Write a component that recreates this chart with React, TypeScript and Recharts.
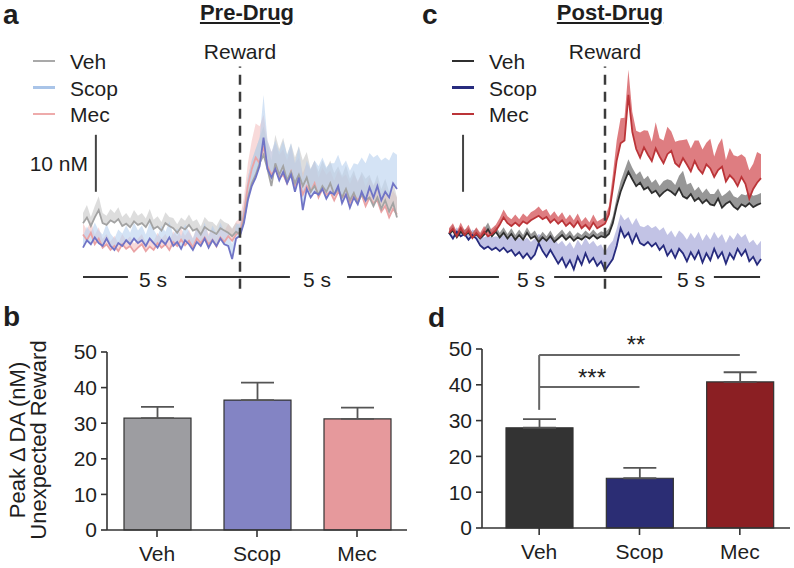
import {
  ComposedChart,
  Area,
  Line,
  XAxis,
  YAxis,
  ReferenceLine,
  BarChart,
  Bar,
  Cell,
  ErrorBar,
} from "recharts";

const FONT = '"Liberation Sans", Arial, Helvetica, sans-serif';

// sample times of the voltammetry traces, seconds from reward
const TIMES = Array.from({ length: 81 }, (_, i) => -5 + i * 0.125);

// panel a, pre-drug mean traces (nM) and SEM
const A_VEH = [5.5, 6.5, 5.0, 6.5, 7.8, 5.5, 5.2, 6.0, 5.6, 6.2, 5.0, 5.4, 4.8, 5.8, 5.2, 5.5, 4.8, 6.0, 4.5, 4.9, 4.2, 5.5, 5.0, 4.6, 3.8, 4.8, 4.4, 5.2, 4.2, 4.5, 3.5, 4.8, 4.3, 4.0, 3.6, 4.6, 4.2, 3.8, 3.2, 4.0, 3.5,
  6.0, 10.0, 12.5, 14.0, 16.0, 17.5, 15.0, 12.0, 16.0, 14.0, 15.5, 13.0, 14.5, 12.5, 14.0, 12.0, 13.5, 11.0, 12.0, 10.5, 12.0, 11.0, 12.5, 10.5, 11.5, 10.0, 11.5, 9.5, 10.8, 9.0, 10.5, 9.5, 10.0, 8.5, 10.0, 8.0, 9.5, 7.5, 9.0, 6.5];
const A_VEH_SEM = [1.8, 2.2, 1.6, 2.0, 2.4, 1.8, 1.6, 2.0, 1.7, 2.1, 1.6, 1.9, 1.5, 2.0, 1.6, 1.8, 1.5, 2.0, 1.6, 1.8, 1.5, 1.9, 1.6, 1.8, 1.5, 1.7, 1.5, 1.8, 1.6, 1.7, 1.4, 1.8, 1.5, 1.7, 1.4, 1.7, 1.5, 1.6, 1.4, 1.6, 1.5,
  2.5, 3.5, 4.0, 4.5, 4.5, 5.0, 4.5, 4.5, 5.0, 4.5, 5.0, 4.5, 5.0, 4.5, 5.0, 4.5, 4.5, 4.0, 4.5, 4.0, 4.5, 4.0, 4.0, 3.8, 4.0, 3.8, 4.2, 3.8, 4.0, 3.6, 4.0, 3.8, 4.0, 3.5, 4.0, 3.5, 3.8, 3.5, 3.8, 3.5];
const A_SCOP = [1.2, 2.5, 1.8, 3.0, 2.0, 1.5, 2.8, 1.5, 0.8, 2.0, 1.5, 2.5, 1.8, 2.8, 2.0, 2.5, 1.5, 2.8, 2.0, 1.2, 2.5, 1.8, 3.0, 1.5, 2.2, 1.0, 2.5, 1.8, 0.8, 2.2, 1.5, 2.8, 1.2, 2.5, 1.5, 2.8, 1.8, 1.5, -0.8, 2.8, 3.3,
  5.5, 9.5, 12.0, 13.5, 15.5, 20.5, 15.0, 13.5, 15.0, 13.0, 14.5, 12.5, 14.0, 11.0, 13.5, 7.8, 11.5, 10.0, 11.0, 10.5, 11.5, 9.8, 11.0, 10.5, 12.0, 9.0, 10.5, 8.2, 10.0, 8.8, 11.0, 9.5, 11.8, 10.0, 12.0, 9.5, 11.0, 10.0, 12.5, 11.5];
const A_SCOP_SEM = [2.0, 2.4, 2.0, 2.6, 2.2, 2.0, 2.6, 2.2, 2.0, 2.4, 2.2, 2.6, 2.0, 2.8, 2.2, 2.6, 2.0, 2.8, 2.4, 2.0, 2.6, 2.2, 2.8, 2.0, 2.4, 2.2, 2.8, 2.2, 2.0, 2.6, 2.2, 2.8, 2.0, 2.6, 2.2, 2.8, 2.2, 2.4, 2.6, 2.4, 2.2,
  3.0, 4.0, 4.5, 5.0, 5.0, 7.5, 5.0, 4.5, 5.0, 5.0, 5.5, 5.0, 5.5, 5.0, 5.5, 5.5, 5.0, 5.0, 5.5, 5.0, 5.5, 5.5, 5.0, 5.5, 5.5, 6.5, 6.0, 6.5, 6.0, 7.0, 6.0, 6.5, 6.0, 7.0, 5.5, 7.0, 6.0, 6.5, 5.5, 6.0];
const A_MEC = [3.5, 2.5, 3.8, 1.8, 2.8, 1.2, 1.8, 0.8, 1.5, 0.6, 1.8, 1.0, 1.5, 0.5, 1.2, 1.8, 0.6, 1.4, 0.8, 2.0, 1.2, 1.8, 0.8, 2.2, 1.5, 2.6, 1.6, 2.4, 1.2, 2.8, 2.0, 3.0, 1.8, 2.6, 1.4, 3.0, 2.2, 3.2, 2.4, 3.5, 4.0,
  7.0, 12.0, 15.0, 17.0, 16.0, 19.0, 15.5, 14.0, 15.0, 13.5, 14.0, 12.5, 14.5, 12.0, 13.0, 10.5, 12.0, 11.0, 12.5, 10.0, 11.5, 10.5, 11.0, 9.5, 11.0, 10.0, 10.5, 9.0, 10.5, 9.5, 10.5, 8.5, 10.0, 9.0, 9.5, 7.5, 8.5, 6.5, 8.0, 7.0];
const A_MEC_SEM = [2.0, 1.8, 2.2, 1.6, 2.0, 1.5, 1.8, 1.5, 1.8, 1.4, 1.8, 1.5, 1.7, 1.4, 1.6, 1.8, 1.4, 1.7, 1.5, 1.8, 1.6, 1.8, 1.5, 1.9, 1.7, 2.0, 1.7, 2.0, 1.6, 2.1, 1.8, 2.2, 1.8, 2.0, 1.7, 2.2, 1.9, 2.2, 2.0, 2.3, 2.4,
  3.0, 4.0, 5.0, 6.0, 6.5, 5.5, 4.5, 4.0, 4.5, 4.0, 4.5, 4.0, 4.5, 4.0, 4.0, 3.8, 4.0, 3.8, 4.0, 3.5, 3.8, 3.5, 3.8, 3.5, 3.8, 3.5, 3.6, 3.4, 3.6, 3.4, 3.6, 3.4, 3.5, 3.2, 3.5, 3.2, 3.4, 3.0, 3.2, 3.0];

// panel c, post-drug mean traces (nM) and SEM
const C_VEH = [3.6, 4.2, 3.0, 4.0, 3.4, 3.8, 3.0, 3.6, 2.8, 3.5, 4.4, 3.2, 4.0, 3.0, 3.8, 2.8, 3.6, 2.6, 3.4, 2.6, 3.8, 2.8, 3.2, 2.2, 3.0, 2.4, 3.2, 2.2, 2.8, 3.4, 2.6, 3.2, 2.4, 3.0, 2.6, 3.2, 2.8, 3.4, 2.8, 3.2, 3.0,
  3.6, 5.5, 8.5, 11.0, 12.8, 14.5, 13.2, 12.0, 12.6, 11.4, 11.8, 10.8, 11.2, 10.2, 10.9, 11.4, 11.0, 10.4, 11.6, 10.2, 9.8, 10.6, 9.4, 9.9, 9.0, 9.6, 8.8, 8.6, 9.8, 8.2, 8.9, 9.3, 8.4, 7.9, 8.8, 8.4, 9.0, 8.3, 8.7, 9.0];
const C_VEH_SEM = [0.8, 1.0, 0.8, 1.0, 0.9, 1.0, 0.8, 1.0, 0.8, 1.0, 1.2, 0.9, 1.0, 0.8, 1.0, 0.8, 1.0, 0.8, 1.0, 0.8, 1.0, 0.8, 1.0, 0.8, 1.0, 0.8, 1.0, 0.8, 0.9, 1.0, 0.8, 1.0, 0.8, 0.9, 0.8, 1.0, 0.8, 1.0, 0.8, 0.9, 0.8,
  1.0, 1.2, 1.5, 1.8, 2.0, 2.2, 2.0, 2.0, 2.0, 1.8, 2.0, 1.8, 2.0, 1.8, 2.0, 1.8, 2.0, 1.8, 2.2, 4.5, 2.5, 2.0, 1.8, 2.0, 1.8, 2.0, 1.8, 2.0, 1.8, 2.0, 1.8, 2.0, 1.8, 2.0, 1.8, 2.0, 1.8, 2.0, 1.8, 1.8];
const C_SCOP = [3.8, 2.8, 4.0, 3.2, 3.6, 2.6, 3.4, 2.8, 1.6, 1.0, 1.4, 0.8, 1.2, 0.6, 1.2, 0.4, 0.8, -0.2, 0.4, -0.6, 0.2, -0.8, 0.0, 2.0, 0.6, -0.4, 0.8, -0.4, -1.6, -0.6, -2.2, -1.0, -2.6, -0.4, -1.8, 0.2, -1.4, -0.6, -2.0, -1.2, -2.8,
  -1.8, -0.8, 1.5, 4.6, 3.0, 3.8, 2.0, 3.6, 2.0, 1.6, 2.2, 1.4, 2.0, 0.8, 1.6, -0.2, 0.8, -0.6, 1.0, 0.2, -1.2, 0.4, -0.8, 0.6, -1.4, 0.2, -1.0, 1.0, -0.6, 0.4, -1.6, 0.2, -0.8, 1.0, -0.2, 0.8, -1.2, -0.4, -1.8, -0.8];
const C_SCOP_SEM = [0.6, 0.6, 0.8, 0.6, 0.8, 0.8, 1.0, 1.2, 1.6, 2.0, 2.0, 2.2, 2.0, 2.4, 2.2, 2.6, 2.4, 2.8, 2.6, 3.0, 2.8, 3.0, 2.8, 1.6, 2.6, 3.0, 2.8, 3.2, 3.4, 3.0, 3.6, 3.2, 3.6, 3.0, 3.4, 2.8, 3.2, 3.0, 3.4, 3.0, 3.2,
  3.4, 3.2, 3.0, 2.5, 3.0, 2.8, 3.2, 2.8, 3.0, 3.2, 3.0, 3.2, 3.0, 3.4, 3.2, 3.6, 3.4, 3.6, 3.2, 3.4, 3.8, 3.4, 3.6, 3.4, 3.8, 3.4, 3.6, 3.0, 3.4, 3.2, 3.6, 3.2, 3.4, 2.8, 3.2, 2.8, 3.2, 3.0, 3.4, 3.2];
const C_MEC = [3.8, 4.5, 3.2, 4.6, 3.4, 4.2, 2.9, 3.8, 3.0, 4.0, 3.2, 3.6, 4.2, 5.2, 6.5, 5.5, 5.0, 5.6, 5.0, 5.8, 5.4, 6.0, 6.4, 6.8, 6.2, 6.6, 5.6, 6.2, 5.4, 6.0, 5.0, 5.6, 4.8, 5.8, 4.6, 5.2, 4.4, 5.6, 4.6, 5.0, 5.4,
  7.0, 11.5, 16.5, 19.5, 20.0, 28.0, 21.5, 18.5, 17.0, 18.8, 17.5, 16.4, 18.6, 17.2, 16.0, 17.6, 18.2, 16.0, 15.4, 16.9, 15.8, 14.6, 16.4, 15.0, 14.2, 15.8, 15.1, 13.6, 14.8, 15.4, 12.8, 13.9, 13.2, 12.0, 13.6, 12.4, 9.8, 11.5, 12.6, 13.4];
const C_MEC_SEM = [0.8, 1.0, 0.8, 1.0, 0.8, 1.0, 0.8, 1.0, 0.8, 1.0, 0.8, 1.0, 1.0, 1.2, 1.4, 1.2, 1.2, 1.4, 1.2, 1.4, 1.2, 1.4, 1.4, 1.6, 1.4, 1.4, 1.2, 1.4, 1.2, 1.4, 1.2, 1.4, 1.2, 1.4, 1.2, 1.4, 1.2, 1.4, 1.2, 1.2, 1.2,
  1.5, 2.5, 3.5, 4.4, 4.0, 4.4, 3.5, 3.2, 4.4, 3.0, 4.2, 3.4, 4.6, 3.2, 4.0, 4.8, 3.4, 3.8, 4.6, 3.2, 4.4, 4.0, 3.6, 5.0, 4.2, 3.8, 5.2, 3.6, 4.4, 5.0, 3.8, 4.8, 4.2, 5.2, 4.0, 4.6, 5.0, 4.4, 5.4, 4.2];

// bar panels: peak change in DA (nM) to unexpected reward
const GROUPS = ["Veh", "Scop", "Mec"];
const PRE_PEAK = [31.4, 36.5, 31.2];
const PRE_SEM = [3.2, 4.9, 3.2];
const POST_PEAK = [28.0, 13.9, 40.8];
const POST_SEM = [2.4, 2.9, 2.7];
const Y_TICKS = [0, 10, 20, 30, 40, 50];

const PRE_COLORS = { veh: "#9d9da1", scop: "#8384c4", mec: "#e6999c" };
const PRE_LINES = { veh: "#a3a3a3", scop: "#7074c6", mec: "#eaa3a5" };
const PRE_BANDS = { veh: "#c6c6c6", scop: "#b7d0ee", mec: "#f3c1c1" };
const PRE_LEGEND = { veh: "#a9a9a9", scop: "#a9c4e8", mec: "#eeabab" };
const POST_COLORS = { veh: "#333333", scop: "#2b2d74", mec: "#8b1f23" };
const POST_LINES = { veh: "#2f2f2f", scop: "#272b7e", mec: "#bb3438" };
const POST_BANDS = { veh: "#7d7d7d", scop: "#b3b4df", mec: "#d65d62" };

function buildTrace(veh, vehSem, scop, scopSem, mec, mecSem) {
  return TIMES.map((t, i) => ({
    t,
    veh: veh[i],
    scop: scop[i],
    mec: mec[i],
    vehBand: [veh[i], veh[i] + vehSem[i]],
    scopBand: [scop[i], scop[i] + scopSem[i]],
    mecBand: [mec[i], mec[i] + mecSem[i]],
  }));
}

function buildBars(peak, sem) {
  return GROUPS.map((g, i) => ({ group: g, peak: peak[i], err: [0, sem[i]] }));
}

const preTrace = buildTrace(A_VEH, A_VEH_SEM, A_SCOP, A_SCOP_SEM, A_MEC, A_MEC_SEM);
const postTrace = buildTrace(C_VEH, C_VEH_SEM, C_SCOP, C_SCOP_SEM, C_MEC, C_MEC_SEM);
const preBars = buildBars(PRE_PEAK, PRE_SEM);
const postBars = buildBars(POST_PEAK, POST_SEM);

function Txt({ x, y, children, size = 21, bold = false, underline = false, anchor = "middle" }) {
  const tx = anchor === "middle" ? "-50%" : anchor === "end" ? "-100%" : "0";
  return (
    <div
      style={{
        position: "absolute",
        left: x,
        top: y,
        transform: `translate(${tx}, -50%)`,
        fontSize: size,
        fontWeight: bold ? 700 : 400,
        textDecoration: underline ? "underline" : "none",
        lineHeight: 1,
        whiteSpace: "nowrap",
        color: "#1e1e1e",
        fontFamily: FONT,
      }}
    >
      {children}
    </div>
  );
}

function Legend({ x, y, colors }) {
  return (
    <>
      {GROUPS.map((g, i) => {
        const key = g.toLowerCase();
        return (
          <div key={g}>
            <div
              style={{
                position: "absolute",
                left: x,
                top: y + i * 26.5 - 1.25,
                width: 22,
                height: 2.5,
                background: colors[key],
              }}
            />
            <Txt x={x + 37} y={y + i * 26.5} anchor="start">
              {g}
            </Txt>
          </div>
        );
      })}
    </>
  );
}

function TracePanel({ data, left, width, marginLeft, marginRight, lines, bands, bandOpacity, order, timeBar, scaleX }) {
  return (
    <div style={{ position: "absolute", left, top: 0 }}>
      <ComposedChart
        width={width}
        height={300}
        data={data}
        margin={{ top: 66.4, right: marginRight, bottom: 11.3, left: marginLeft }}
      >
        <XAxis type="number" dataKey="t" domain={[-5, 5]} hide />
        <YAxis type="number" domain={[-6, 33]} hide />
        {order.map((k) => (
          <Area
            key={k + "b"}
            dataKey={k + "Band"}
            stroke="none"
            fill={bands[k]}
            fillOpacity={bandOpacity}
            isAnimationActive={false}
            dot={false}
            activeDot={false}
          />
        ))}
        {order.map((k) => (
          <Line
            key={k}
            dataKey={k}
            stroke={lines[k]}
            strokeWidth={1.8}
            dot={false}
            activeDot={false}
            isAnimationActive={false}
          />
        ))}
        <ReferenceLine x={0} stroke="#3c3c3c" strokeWidth={2.5} strokeDasharray="10 7" />
        {timeBar.map((s, i) => (
          <ReferenceLine
            key={i}
            segment={[{ x: s[0], y: -3.95 }, { x: s[1], y: -3.95 }]}
            stroke="#333"
            strokeWidth={2}
          />
        ))}
        <ReferenceLine
          segment={[{ x: scaleX, y: 11 }, { x: scaleX, y: 21 }]}
          stroke="#444"
          strokeWidth={2}
        />
      </ComposedChart>
    </div>
  );
}

function BarPanel({ data, left, width, axisWidth, marginTop, marginRight, marginBottom, padLeft, fills, children }) {
  const keys = ["veh", "scop", "mec"];
  return (
    <div style={{ position: "absolute", left, top: 300 }}>
      <BarChart
        width={width}
        height={268}
        data={data}
        margin={{ top: marginTop, right: marginRight, bottom: marginBottom, left: 0 }}
        style={{ fontFamily: FONT }}
      >
        <XAxis
          dataKey="group"
          height={30}
          tickSize={7}
          tickMargin={9}
          padding={{ left: padLeft, right: 0 }}
          axisLine={{ stroke: "#333", strokeWidth: 1.6 }}
          tickLine={{ stroke: "#333", strokeWidth: 1.6 }}
          tick={{ fill: "#1e1e1e", fontSize: 21, fontFamily: FONT }}
        />
        <YAxis
          width={axisWidth}
          domain={[0, 50]}
          ticks={Y_TICKS}
          tickSize={6}
          tickMargin={4}
          axisLine={{ stroke: "#333", strokeWidth: 1.6 }}
          tickLine={{ stroke: "#333", strokeWidth: 1.6 }}
          tick={{ fill: "#1e1e1e", fontSize: 21, fontFamily: FONT }}
        />
        <Bar dataKey="peak" barSize={67} stroke="#333" strokeWidth={1.2} isAnimationActive={false}>
          {data.map((d, i) => (
            <Cell key={d.group} fill={fills[keys[i]]} />
          ))}
          <ErrorBar dataKey="err" direction="y" width={16.5} stroke="#555" strokeWidth={1.8} />
        </Bar>
        {children}
      </BarChart>
    </div>
  );
}

export default function App() {
  return (
    <div
      style={{
        position: "absolute",
        left: 0,
        top: 0,
        width: 794,
        height: 568,
        background: "#fff",
        overflow: "hidden",
        fontFamily: FONT,
      }}
    >
      <TracePanel
        data={preTrace}
        left={0}
        width={400}
        marginLeft={83}
        marginRight={3}
        lines={PRE_LINES}
        bands={PRE_BANDS}
        bandOpacity={0.6}
        order={["mec", "veh", "scop"]}
        timeBar={[[-5, -3.57], [-1.75, 0], [0, 1.59], [3.41, 4.84]]}
        scaleX={-4.59}
      />
      <TracePanel
        data={postTrace}
        left={400}
        width={394}
        marginLeft={49}
        marginRight={33}
        lines={POST_LINES}
        bands={POST_BANDS}
        bandOpacity={0.8}
        order={["scop", "veh", "mec"]}
        timeBar={[[-5, -3.4], [-1.63, 0], [0, 1.83], [3.49, 4.97]]}
        scaleX={-4.55}
      />

      <BarPanel
        data={preBars}
        left={0}
        width={420}
        axisWidth={107}
        marginTop={52}
        marginRight={13}
        marginBottom={8}
        padLeft={0}
        fills={PRE_COLORS}
      />
      <BarPanel
        data={postBars}
        left={400}
        width={394}
        axisWidth={82}
        marginTop={49}
        marginRight={4}
        marginBottom={10}
        padLeft={7}
        fills={POST_COLORS}
      >
        <ReferenceLine
          segment={[{ x: "Veh", y: 48.3 }, { x: "Mec", y: 48.3 }]}
          stroke="#666"
          strokeWidth={2}
        />
        <ReferenceLine
          segment={[{ x: "Veh", y: 39.4 }, { x: "Scop", y: 39.4 }]}
          stroke="#666"
          strokeWidth={2}
        />
        <ReferenceLine
          segment={[{ x: "Veh", y: 33 }, { x: "Veh", y: 48.3 }]}
          stroke="#666"
          strokeWidth={2}
        />
      </BarPanel>

      {/* panel letters and titles */}
      <Txt x={3} y={14.8} size={28} bold anchor="start">a</Txt>
      <Txt x={422} y={14.8} size={28} bold anchor="start">c</Txt>
      <Txt x={3} y={317.3} size={28} bold anchor="start">b</Txt>
      <Txt x={428} y={318.3} size={28} bold anchor="start">d</Txt>
      <Txt x={247} y={13.4} size={22} bold underline>Pre-Drug</Txt>
      <Txt x={610} y={13.4} size={22} bold underline>Post-Drug</Txt>

      <Txt x={240} y={50.5}>Reward</Txt>
      <Txt x={605} y={50.5}>Reward</Txt>
      <Txt x={88} y={163} anchor="end">10 nM</Txt>
      <Txt x={153} y={278.5}>5 s</Txt>
      <Txt x={317} y={278.5}>5 s</Txt>
      <Txt x={531} y={278.5}>5 s</Txt>
      <Txt x={691} y={278.5}>5 s</Txt>

      <Legend x={33} y={61} colors={PRE_LEGEND} />
      <Legend x={452} y={61} colors={POST_LINES} />

      {/* y-axis title of panel b */}
      <div
        style={{
          position: "absolute",
          left: 27.5 - 130,
          top: 440 - 21,
          width: 260,
          height: 42,
          transform: "rotate(-90deg)",
          textAlign: "center",
          fontSize: 22,
          lineHeight: "21px",
          color: "#1e1e1e",
          whiteSpace: "nowrap",
        }}
      >
        Peak Δ DA (nM)
        <br />
        Unexpected Reward
      </div>

      <Txt x={636} y={344.7} size={24}>**</Txt>
      <Txt x={592} y={377.7} size={24}>***</Txt>
    </div>
  );
}
